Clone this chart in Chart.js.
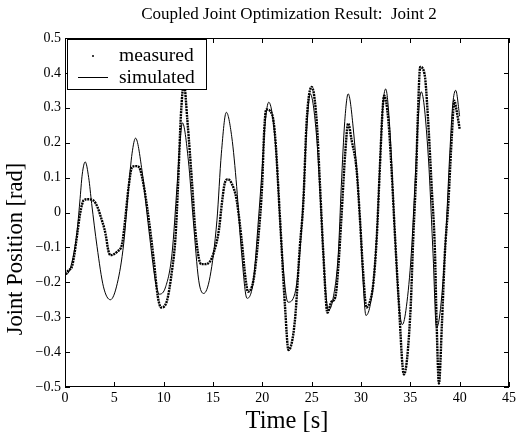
<!DOCTYPE html>
<html>
<head>
<meta charset="utf-8">
<script src="https://cdn.jsdelivr.net/npm/chart.js@4.4.0/dist/chart.umd.min.js"></script>
<style>
    html, body { margin: 0; padding: 0; background: #fff; }
    #wrap { width: 517px; height: 439px; }
</style>
</head>
<body>
<div id="wrap"><canvas id="jointChart" width="517" height="439"></canvas></div>
<script>
// ============================================
// Coupled joint optimization: joint 2, measured vs simulated
// ============================================

const titleText = 'Coupled Joint Optimization Result:  Joint 2';
const xTitle = 'Time [s]';
const yTitle = 'Joint Position [rad]';
const legendLabels = ['measured', 'simulated'];
const xTicks = [0, 5, 10, 15, 20, 25, 30, 35, 40, 45];
const yTicks = [-0.5, -0.4, -0.3, -0.2, -0.1, 0, 0.1, 0.2, 0.3, 0.4, 0.5];

// values
const measuredTime = [
    0.0, 0.4, 0.7, 0.95, 1.2, 1.55, 1.9, 2.3, 2.9, 3.3, 3.6, 4.1, 4.4, 4.6, 5.3, 5.8,
    6.1, 6.45, 6.8, 7.2, 7.5, 8.0, 8.5, 9.0, 9.4, 9.75, 10.3, 10.85, 11.2, 11.45, 11.75, 12.05,
    12.4, 12.9, 13.2, 13.8, 14.2, 14.7, 15.05, 15.6, 15.9, 16.2, 16.5, 16.9, 17.4, 17.9, 18.3, 18.55,
    19.1, 19.6, 19.97, 20.2, 20.4, 21.0, 21.3, 21.8, 22.3, 22.65, 23.3, 23.8, 24.15, 24.5, 25.0, 25.5,
    25.85, 26.18, 26.6, 27.0, 27.4, 27.7, 28.0, 28.4, 28.7, 29.05, 29.56, 29.9, 30.2, 30.55, 30.9, 31.25,
    31.6, 31.9, 32.2, 32.35, 32.77, 33.1, 33.45, 33.8, 34.35, 35.0, 35.3, 35.6, 35.75, 36.0, 36.45, 36.8,
    37.16, 37.5, 37.66, 37.9, 38.2, 38.5, 38.85, 39.2, 39.46, 39.7, 40.0
];
const measuredPos = [
    -0.175, -0.165, -0.155, -0.12, -0.07, 0.0, 0.035, 0.038, 0.034, 0.015, -0.01, -0.06, -0.11, -0.122, -0.112, -0.088,
    -0.02, 0.074, 0.13, 0.133, 0.13, 0.074, -0.022, -0.137, -0.24, -0.272, -0.256, -0.165, -0.07, 0.074, 0.28, 0.37,
    0.265, 0.074, -0.05, -0.148, -0.148, -0.14, -0.117, -0.05, 0.026, 0.085, 0.095, 0.083, 0.035, -0.079, -0.19, -0.227,
    -0.194, -0.07, 0.074, 0.24, 0.295, 0.28, 0.217, -0.022, -0.27, -0.394, -0.31, -0.098, 0.026, 0.265, 0.36, 0.265,
    0.074, -0.117, -0.287, -0.256, -0.242, -0.156, -0.022, 0.17, 0.255, 0.207, 0.121, -0.022, -0.165, -0.272, -0.256, -0.203,
    -0.07, 0.121, 0.3, 0.335, 0.265, 0.121, -0.07, -0.242, -0.464, -0.29, -0.07, 0.121, 0.265, 0.417, 0.395, 0.265,
    0.074, -0.117, -0.31, -0.49, -0.32, -0.117, 0.026, 0.217, 0.32, 0.29, 0.24
];

const simulatedTime = [
    0.0, 0.4, 0.8, 1.2, 1.5, 1.75, 2.05, 2.4, 2.7, 3.25, 3.9, 4.6, 5.3, 5.95, 6.45, 6.8,
    7.15, 7.8, 8.5, 9.15, 9.55, 10.2, 10.85, 11.35, 11.65, 11.9, 12.5, 13.0, 13.55, 14.05, 14.7, 15.4,
    15.85, 16.35, 16.9, 17.4, 17.9, 18.45, 19.1, 19.6, 19.97, 20.3, 20.65, 21.3, 22.0, 22.6, 23.3, 23.8,
    24.15, 24.5, 24.85, 25.5, 26.0, 26.4, 26.7, 27.2, 27.7, 28.0, 28.35, 28.7, 29.2, 29.9, 30.2, 30.5,
    30.9, 31.25, 31.6, 31.9, 32.2, 32.5, 32.9, 33.45, 33.8, 34.2, 34.6, 35.1, 35.5, 35.8, 36.1, 36.8,
    37.3, 37.65, 38.0, 38.5, 39.0, 39.3, 39.6, 40.0
];
const simulatedPos = [
    -0.18, -0.17, -0.13, -0.06, 0.03, 0.11, 0.145, 0.1, 0.026, -0.098, -0.213, -0.25, -0.203, -0.089, 0.074, 0.17,
    0.213, 0.121, -0.05, -0.194, -0.234, -0.213, -0.117, 0.074, 0.2, 0.257, 0.15, -0.022, -0.194, -0.232, -0.184, -0.022,
    0.17, 0.287, 0.217, 0.074, -0.117, -0.246, -0.194, -0.022, 0.121, 0.26, 0.316, 0.207, -0.117, -0.257, -0.232, -0.117,
    0.04, 0.24, 0.34, 0.217, -0.022, -0.22, -0.28, -0.242, -0.117, 0.074, 0.26, 0.34, 0.245, -0.02, -0.19, -0.295,
    -0.27, -0.2, -0.06, 0.13, 0.3, 0.354, 0.25, -0.07, -0.25, -0.321, -0.27, -0.117, 0.1, 0.27, 0.346, 0.17,
    -0.117, -0.33, -0.29, -0.117, 0.17, 0.31, 0.35, 0.276
];

const SERIF = '"Liberation Serif", "DejaVu Serif", serif';

function toPoints(xs, ys) {
    return xs.map((t, i) => ({ x: t, y: ys[i] }));
}

function formatY(v) {
    if (Math.abs(v) < 1e-9) return '0';
    const s = Math.abs(v).toFixed(1);
    return v < 0 ? '\u2212' + s : s;
}

// frame, inward ticks on all four sides, titles and the boxed legend
const matlabFrame = {
    id: 'matlabFrame',
    afterDatasetsDraw(chart) {
        const { ctx, chartArea: a, scales: { x, y } } = chart;
        ctx.save();
        ctx.strokeStyle = '#000';
        ctx.lineWidth = 1;
        ctx.setLineDash([]);
        ctx.strokeRect(a.left + 0.5, a.top + 0.5, a.right - a.left - 1, a.bottom - a.top - 1);

        ctx.beginPath();
        xTicks.forEach(v => {
            const px = Math.round(x.getPixelForValue(v)) + 0.5;
            ctx.moveTo(px, a.bottom); ctx.lineTo(px, a.bottom - 5);
            ctx.moveTo(px, a.top); ctx.lineTo(px, a.top + 5);
        });
        yTicks.forEach(v => {
            const py = Math.round(y.getPixelForValue(v)) + 0.5;
            ctx.moveTo(a.left, py); ctx.lineTo(a.left + 5, py);
            ctx.moveTo(a.right, py); ctx.lineTo(a.right - 5, py);
        });
        ctx.stroke();

        ctx.fillStyle = '#000';
        ctx.textBaseline = 'alphabetic';

        // title
        ctx.font = '17px ' + SERIF;
        ctx.textAlign = 'center';
        ctx.fillText(titleText, 289, 19);

        // x label
        ctx.font = '24.5px ' + SERIF;
        ctx.fillText(xTitle, 287, 428);

        // y label (sits a little below the axis centre in the original)
        ctx.save();
        ctx.translate(22, 249);
        ctx.rotate(-Math.PI / 2);
        ctx.font = '22.5px ' + SERIF;
        ctx.fillText(yTitle, 0, 0);
        ctx.restore();

        // legend
        const lx = a.left + 2, ly = a.top + 1, lw = 139, lh = 50;
        ctx.fillStyle = '#fff';
        ctx.fillRect(lx, ly, lw, lh);
        ctx.strokeRect(lx + 0.5, ly + 0.5, lw, lh);
        ctx.fillStyle = '#000';
        ctx.beginPath();
        ctx.arc(lx + 26, ly + 17, 1, 0, Math.PI * 2);
        ctx.fill();
        ctx.beginPath();
        ctx.moveTo(lx + 11, ly + 38.5);
        ctx.lineTo(lx + 41, ly + 38.5);
        ctx.stroke();
        ctx.font = '19.5px ' + SERIF;
        ctx.textAlign = 'left';
        ctx.fillText(legendLabels[0], lx + 52, ly + 22);
        ctx.fillText(legendLabels[1], lx + 52, ly + 44);
        ctx.restore();
    }
};

const chart = new Chart(document.getElementById('jointChart').getContext('2d'), {
    type: 'line',
    data: {
        datasets: [
            {
                label: legendLabels[0],
                data: toPoints(measuredTime, measuredPos),
                borderColor: '#000',
                borderWidth: 2.4,
                borderDash: [2, 0.8],
                pointRadius: 0,
                fill: false,
                cubicInterpolationMode: 'monotone'
            },
            {
                label: legendLabels[1],
                data: toPoints(simulatedTime, simulatedPos),
                borderColor: '#000',
                borderWidth: 1,
                pointRadius: 0,
                fill: false,
                cubicInterpolationMode: 'monotone'
            }
        ]
    },
    options: {
        responsive: false,
        animation: false,
        devicePixelRatio: 1,
        layout: { padding: { top: 38, right: 8, left: 0, bottom: 0 } },
        plugins: {
            legend: { display: false },
            title: { display: false },
            tooltip: { enabled: false }
        },
        scales: {
            x: {
                type: 'linear',
                min: 0,
                max: 45,
                grid: { display: false, drawTicks: false },
                border: { display: false },
                afterBuildTicks: s => { s.ticks = xTicks.map(v => ({ value: v })); },
                afterFit: s => { s.height = 52; s.paddingLeft = 0; s.paddingRight = 0; },
                ticks: {
                    color: '#000',
                    padding: 3,
                    maxRotation: 0,
                    font: { family: SERIF, size: 14 },
                    callback: v => String(v)
                }
            },
            y: {
                type: 'linear',
                min: -0.5,
                max: 0.5,
                grid: { display: false, drawTicks: false },
                border: { display: false },
                afterBuildTicks: s => { s.ticks = yTicks.map(v => ({ value: v })); },
                afterFit: s => { s.width = 65; s.paddingTop = 0; s.paddingBottom = 0; },
                ticks: {
                    color: '#000',
                    padding: 4,
                    font: { family: SERIF, size: 14 },
                    callback: v => formatY(v)
                }
            }
        }
    },
    plugins: [matlabFrame]
});
</script>
</body>
</html>
